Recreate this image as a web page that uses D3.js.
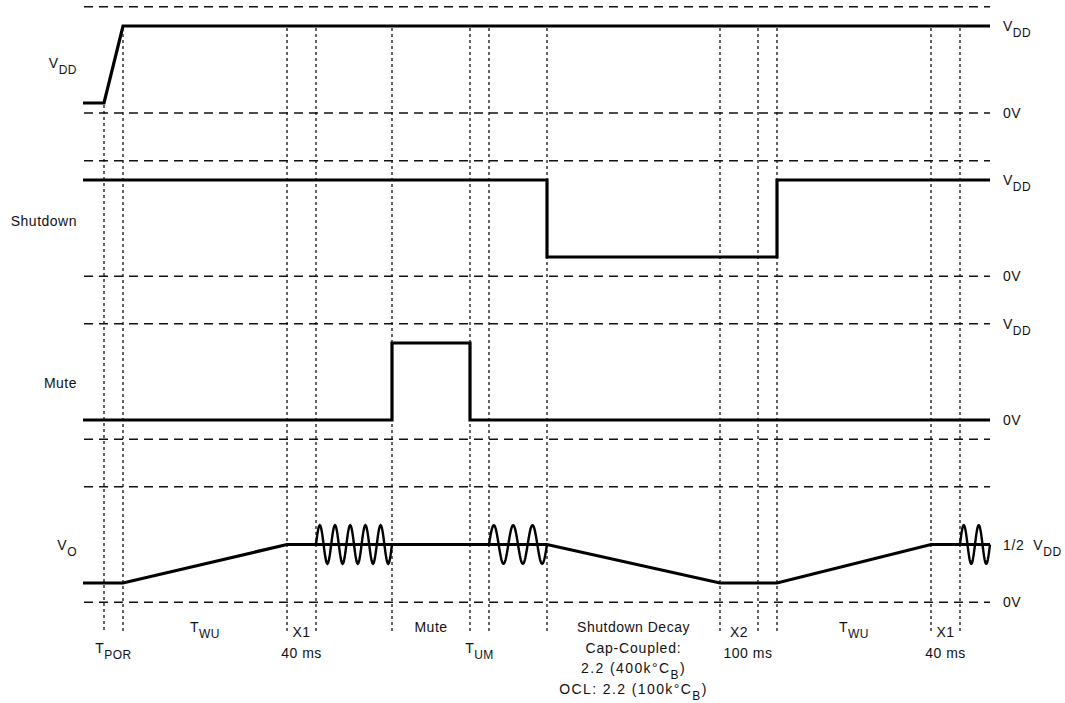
<!DOCTYPE html>
<html>
<head>
<meta charset="utf-8">
<script src="https://cdn.jsdelivr.net/npm/d3@7"></script>
<style>
  body { margin: 0; background: #fff; }
  svg { display: block; background: #fff; }
  text { font-family: "Liberation Sans", Arial, sans-serif; fill: #111; font-size: 14px; letter-spacing: 0.5px; }
</style>
</head>
<body>
<svg id="chart" width="1065" height="703"></svg>
<script>
// ---------------- DATA ----------------
// Time axis (arbitrary units)
const timeRange = [0, 907];

// Event markers (vertical dotted lines)
const markerTimes = [21, 40, 204, 233, 309, 387, 406, 464, 637, 675, 694, 848, 877];

// Waveforms: [time, level as fraction of VDD]
const vddWave      = [[0, 0], [21, 0], [40, 1], [907, 1]];
const shutdownWave = [[0, 1], [464, 1], [464, 0], [694, 0], [694, 1], [907, 1]];
const muteWave     = [[0, 0], [309, 0], [309, 1], [387, 1], [387, 0], [907, 0]];
const voWave       = [[0, 0], [40, 0], [204, 0.5], [464, 0.5], [637, 0], [694, 0], [848, 0.5], [907, 0.5]];

// Audio bursts on VO: start, end, number of cycles, centre level, amplitude (fraction of VDD)
const voBursts = [
  { start: 233, end: 309, cycles: 5, level: 0.5, amp: 0.25 },
  { start: 406, end: 464, cycles: 3, level: 0.5, amp: 0.25 },
  { start: 877, end: 907, cycles: 2, level: 0.5, amp: 0.25 }
];

// Dashed reference levels per row
const rowGuides = [[1.25, -0.13], [1.25, -0.25], [1.25, -0.25], [1.25, -0.25]];

// Left row names
const rowLabels = [
  [{ t: "V" }, { t: "DD", sub: true }],
  [{ t: "Shutdown" }],
  [{ t: "Mute" }],
  [{ t: "V" }, { t: "O", sub: true }]
];

// Right level labels: row, level, text
const levelLabels = [
  { row: 0, level: 1,     parts: [{ t: "V" }, { t: "DD", sub: true }] },
  { row: 0, level: -0.13, parts: [{ t: "0V" }] },
  { row: 1, level: 1,     parts: [{ t: "V" }, { t: "DD", sub: true }] },
  { row: 1, level: -0.25, parts: [{ t: "0V" }] },
  { row: 2, level: 1.25,  parts: [{ t: "V" }, { t: "DD", sub: true }] },
  { row: 2, level: 0,     parts: [{ t: "0V" }] },
  { row: 3, level: 0.5,   parts: [{ t: "1/2\u00a0\u00a0V" }, { t: "DD", sub: true }], wide: true },
  { row: 3, level: -0.25, parts: [{ t: "0V" }] }
];

// Interval annotations under the chart: [from, to], lines of text
const intervalLabels = [
  { from: 21,  to: 40,  lines: [[{ t: "T" }, { t: "POR", sub: true }]], line0: 1 },
  { from: 40,  to: 204, lines: [[{ t: "T" }, { t: "WU", sub: true }]], line0: 0 },
  { from: 204, to: 233, lines: [[{ t: "X1" }], [{ t: "40 ms" }]], line0: 0.25 },
  { from: 309, to: 387, lines: [[{ t: "Mute" }]], line0: 0 },
  { from: 387, to: 406, lines: [[{ t: "T" }, { t: "UM", sub: true }]], line0: 1 },
  { from: 464, to: 637, lines: [[{ t: "Shutdown Decay" }], [{ t: "Cap-Coupled:" }],
                                 [{ t: "2.2 (400k°C" }, { t: "B", sub: true }, { t: ")" }],
                                 [{ t: "OCL: 2.2 (100k°C" }, { t: "B", sub: true }, { t: ")" }]], line0: 0, wide: [2, 3] },
  { from: 637, to: 675, lines: [[{ t: "X2" }]], line0: 0.25 },
  { from: 646, to: 684, lines: [[{ t: "100 ms" }]], line0: 1.25 },
  { from: 694, to: 848, lines: [[{ t: "T" }, { t: "WU", sub: true }]], line0: 0 },
  { from: 848, to: 877, lines: [[{ t: "X1" }], [{ t: "40 ms" }]], line0: 0.25 }
];

// ---------------- LAYOUT ----------------
const svg = d3.select("#chart");
const x = d3.scaleLinear().domain(timeRange).range([83, 990]);
const rowZero = [103, 257, 420, 583];
const unitPx = 77;
const yRow = rowZero.map(z => d3.scaleLinear().domain([0, 1]).range([z, z - unitPx]));
const markerBottom = 632;
const labelLineY = 632, labelLineStep = 20.5;
const subSize = "12px";

function addText(sel, xx, yy, parts, anchor, extra) {
  const t = sel.append("text").attr("x", xx).attr("y", yy).attr("text-anchor", anchor || "start");
  if (extra) t.style("letter-spacing", extra + "px");
  let shifted = false;
  parts.forEach(p => {
    const ts = t.append("tspan").text(p.t);
    if (p.sub && !shifted) { ts.attr("dy", 6).style("font-size", subSize); shifted = true; }
    else if (!p.sub && shifted) { ts.attr("dy", -6); shifted = false; }
    else if (p.sub) ts.style("font-size", subSize);
  });
  return t;
}

// Dashed horizontal guides
const guideG = svg.append("g");
rowGuides.forEach((levels, r) => {
  levels.forEach(l => {
    guideG.append("line")
      .attr("x1", x(timeRange[0]) + 1).attr("x2", x(timeRange[1]))
      .attr("y1", yRow[r](l)).attr("y2", yRow[r](l))
      .attr("stroke", "#111").attr("stroke-width", 1.3)
      .attr("stroke-dasharray", "9,6");
  });
});

// Vertical dotted markers: start at VDD waveform level at that time
function levelAt(wave, t) {
  for (let i = 0; i < wave.length - 1; i++) {
    const [t0, v0] = wave[i], [t1, v1] = wave[i + 1];
    if (t >= t0 && t <= t1) return t1 === t0 ? v1 : v0 + (v1 - v0) * (t - t0) / (t1 - t0);
  }
  return wave[wave.length - 1][1];
}
svg.append("g").selectAll("line").data(markerTimes).join("line")
  .attr("x1", d => x(d)).attr("x2", d => x(d))
  .attr("y1", d => yRow[0](levelAt(vddWave, d)) + 2)
  .attr("y2", markerBottom)
  .attr("stroke", "#111").attr("stroke-width", 1.3)
  .attr("stroke-dasharray", "3,3");

// Waveforms
const waves = [vddWave, shutdownWave, muteWave, voWave];
waves.forEach((w, r) => {
  const line = d3.line().x(d => x(d[0])).y(d => yRow[r](d[1]));
  svg.append("path").attr("d", line(w))
    .attr("fill", "none").attr("stroke", "#000").attr("stroke-width", 3.2)
    .attr("stroke-linejoin", "miter");
});

// Bursts
voBursts.forEach(b => {
  const n = 120;
  const pts = d3.range(n + 1).map(i => {
    const t = b.start + (b.end - b.start) * i / n;
    return [t, b.level + b.amp * Math.sin(2 * Math.PI * b.cycles * i / n)];
  });
  const line = d3.line().x(d => x(d[0])).y(d => yRow[3](d[1]));
  svg.append("path").attr("d", line(pts))
    .attr("fill", "none").attr("stroke", "#000").attr("stroke-width", 2.4);
});

// Left labels
const leftOffsets = [3, 7.5, 6.5, 5];
rowLabels.forEach((parts, r) => {
  addText(svg, 77, yRow[r](0.5) + leftOffsets[r], parts, "end");
});

// Right labels
levelLabels.forEach(l => {
  addText(svg, 1003, yRow[l.row](l.level) + 5, l.parts, "start", l.wide ? 0.6 : null);
});

// Interval labels
intervalLabels.forEach(lb => {
  const cx = x((lb.from + lb.to) / 2);
  lb.lines.forEach((parts, i) => {
    const extra = lb.wide && lb.wide.includes(i) ? 1.4 : (i === 1 && lb.wide ? 0.8 : null);
    addText(svg, cx, labelLineY + (lb.line0 + i) * labelLineStep, parts, "middle", extra);
  });
});
</script>
</body>
</html>
